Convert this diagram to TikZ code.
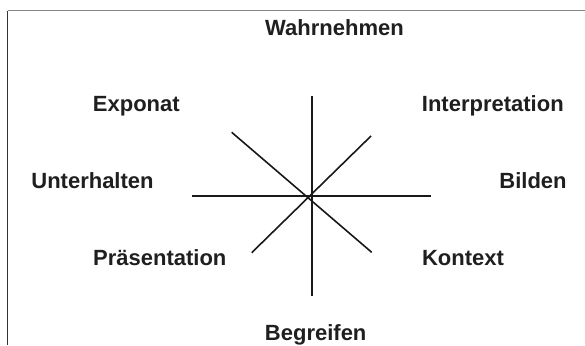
\documentclass[tikz,border=0pt]{standalone}
\usepackage{fontspec}
\setmainfont{Liberation Sans}
\begin{document}
\begin{tikzpicture}[x=1pt,y=-1pt,
  lbl/.style={anchor=base,inner sep=0pt,text=black!88,
    font=\fontsize{22}{26}\selectfont\bfseries},
  spoke/.style={line width=1.6pt,black!90}]
\useasboundingbox (0,0) rectangle (585,345);
% frame: top and left edges only
\draw[line width=1.4pt,black!48] (7.5,10.8) -- (585,10.8);
\draw[line width=1.4pt,black!80] (7.5,10.8) -- (7.5,345);

% end points of the spokes
\coordinate (vt) at (311.7,96);
\coordinate (vb) at (311.7,296);
\coordinate (hl) at (191.7,196);
\coordinate (hr) at (431,196);
\coordinate (nw) at (231.7,132.3);
\coordinate (se) at (371.7,252.3);
\coordinate (ne) at (371,136);
\coordinate (sw) at (251.7,252.7);

\draw[spoke] (vt) -- (vb);
\draw[spoke] (hl) -- (hr);
\draw[spoke] (nw) -- (se);
\draw[spoke] (ne) -- (sw);

% labels
\node[lbl] (wahr) at (334.5,36) {Wahrnehmen};
\node[lbl] (expo) at (136.3,111.5) {Exponat};
\node[lbl] (interp) at (492.8,111.5) {Interpretation};
\node[lbl] (unter) at (92.5,188.3) {Unterhalten};
\node[lbl] (bild) at (533,188.3) {Bilden};
\node[lbl] (praes) at (159.8,265.5) {Präsentation};
\node[lbl] (kont) at (463,265.3) {Kontext};
\node[lbl] (begr) at (315.7,340.7) {Begreifen};
\end{tikzpicture}
\end{document}
